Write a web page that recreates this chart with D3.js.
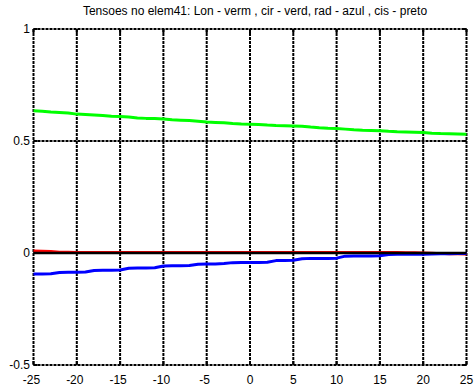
<!DOCTYPE html>
<html>
<head>
<meta charset="utf-8">
<script src="https://cdn.jsdelivr.net/npm/d3@7"></script>
<style>
  html, body { margin: 0; padding: 0; background: #fff; }
  svg { display: block; }
  text { font-family: "Liberation Sans", Arial, sans-serif; font-size: 12px; fill: #000; }
</style>
</head>
<body>
<svg id="chart" width="476" height="391"></svg>
<script>
// Position along the element (x) and stress components
const positions = d3.range(-25, 26, 1);

// Longitudinal (red)
const lon = [0.010, 0.009, 0.008, 0.005, 0.004, 0.003, 0.003, 0.003, 0.003, 0.003,
             0.003, 0.003, 0.003, 0.003, 0.003, 0.003, 0.003, 0.003, 0.003, 0.003,
             0.003, 0.003, 0.003, 0.003, 0.003, 0.003, 0.003, 0.003, 0.003, 0.003,
             0.003, 0.003, 0.003, 0.003, 0.003, 0.003, 0.003, 0.003, 0.003, 0.003,
             0.003, 0.003, 0.003, 0.002, 0.002, 0.001, 0.000, -0.002, -0.004, -0.005, -0.006];

// Circumferential (green)
const cir = [0.635, 0.633, 0.629, 0.627, 0.625, 0.620, 0.618, 0.616, 0.614, 0.611,
             0.609, 0.607, 0.603, 0.601, 0.600, 0.598, 0.595, 0.593, 0.591, 0.588,
             0.585, 0.583, 0.581, 0.578, 0.576, 0.575, 0.574, 0.571, 0.569, 0.568,
             0.567, 0.566, 0.562, 0.559, 0.557, 0.556, 0.553, 0.550, 0.548, 0.547,
             0.546, 0.543, 0.541, 0.540, 0.539, 0.538, 0.535, 0.533, 0.532, 0.531, 0.530];

// Radial (blue)
const rad = [-0.094, -0.094, -0.093, -0.087, -0.086, -0.086, -0.085, -0.078, -0.077, -0.077,
             -0.076, -0.068, -0.067, -0.067, -0.066, -0.058, -0.057, -0.057, -0.056, -0.050,
             -0.049, -0.049, -0.047, -0.043, -0.042, -0.042, -0.042, -0.041, -0.034, -0.033,
             -0.032, -0.026, -0.024, -0.024, -0.024, -0.023, -0.014, -0.013, -0.013, -0.013,
             -0.012, -0.007, -0.006, -0.006, -0.006, -0.006, -0.005, -0.003, -0.003, -0.002, -0.002];

// Shear (black)
const cis = positions.map(() => 0);

const xTicks = [-25, -20, -15, -10, -5, 0, 5, 10, 15, 20, 25];
const yTicks = [-0.5, 0, 0.5, 1];
const yTickLabels = ["-0.5", "0", "0.5", "1"];
const titleText = "Tensoes no elem41: Lon - verm , cir - verd, rad - azul , cis - preto";

const svg = d3.select("#chart");
const plotLeft = 33.5, plotRight = 466.5, plotTop = 29, plotBottom = 365;

const x = d3.scaleLinear().domain([-25, 25]).range([plotLeft, plotRight]);
const y = d3.scaleLinear().domain([-0.5, 1]).range([plotBottom, plotTop]);

// dotted grid (also forms the box)
const grid = svg.append("g")
  .attr("stroke", "#000").attr("stroke-width", 2).attr("stroke-dasharray", "3,1");
grid.selectAll("line.v").data(xTicks).join("line").attr("class", "v")
  .attr("x1", d => x(d)).attr("x2", d => x(d)).attr("y1", plotTop).attr("y2", plotBottom);
grid.selectAll("line.h").data(yTicks).join("line").attr("class", "h")
  .attr("x1", plotLeft).attr("x2", plotRight).attr("y1", d => y(d)).attr("y2", d => y(d));

// inward tick marks on all four sides
const ticks = svg.append("g").attr("stroke", "#000").attr("stroke-width", 2);
xTicks.forEach(t => {
  ticks.append("line").attr("x1", x(t)).attr("x2", x(t)).attr("y1", plotBottom).attr("y2", plotBottom - 4);
  ticks.append("line").attr("x1", x(t)).attr("x2", x(t)).attr("y1", plotTop).attr("y2", plotTop + 4);
});
yTicks.forEach(t => {
  ticks.append("line").attr("x1", plotLeft).attr("x2", plotLeft + 4).attr("y1", y(t)).attr("y2", y(t));
  ticks.append("line").attr("x1", plotRight).attr("x2", plotRight - 4).attr("y1", y(t)).attr("y2", y(t));
});

// stress curves
const line = d3.line().x((d, i) => x(positions[i])).y(d => y(d));
const series = [
  { values: lon, color: "#ff0000", width: 2.5 },
  { values: cir, color: "#00ff00", width: 3 },
  { values: rad, color: "#0000ff", width: 3 },
  { values: cis, color: "#000000", width: 2.5 }
];
svg.append("g").selectAll("path").data(series).join("path")
  .attr("d", d => line(d.values))
  .attr("fill", "none")
  .attr("stroke", d => d.color)
  .attr("stroke-width", d => d.width)
  .attr("stroke-linejoin", "round");

// axis labels
svg.append("g").selectAll("text").data(xTicks).join("text")
  .attr("x", d => x(d) - (d < 0 ? 2 : 0)).attr("y", 384)
  .attr("text-anchor", "middle")
  .text(d => d);
svg.append("g").selectAll("text").data(yTicks).join("text")
  .attr("x", 30).attr("y", d => y(d) + 4)
  .attr("text-anchor", "end")
  .text((d, i) => yTickLabels[i]);

// title
svg.append("text")
  .attr("x", (plotLeft + plotRight) / 2 + 5).attr("y", 15)
  .attr("text-anchor", "middle")
  .text(titleText);
</script>
</body>
</html>
